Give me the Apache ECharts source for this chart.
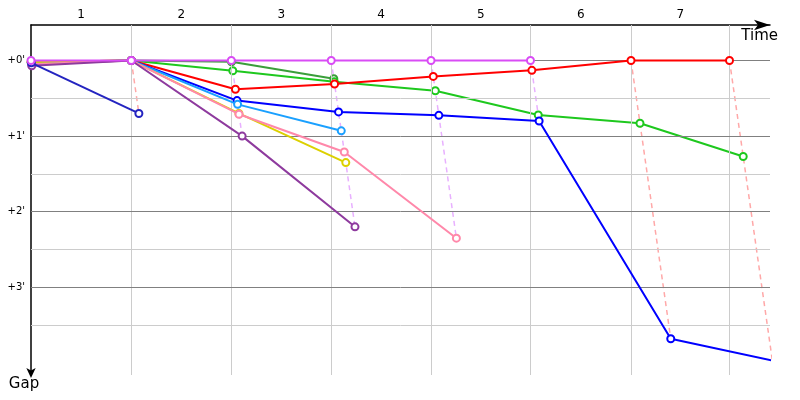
<!DOCTYPE html>
<html>
<head>
<meta charset="utf-8">
<script src="https://cdn.jsdelivr.net/npm/echarts@6/dist/echarts.min.js"></script>
<style>html,body{margin:0;padding:0;background:#fff}#c{width:800px;height:400px}</style>
</head>
<body>
<div id="c"></div>
<script>
// Leader's cumulative time at the end of each lap (lap 0 = start), in gap units
const leaderTimes = [0, 9.29, 18.55, 27.80, 37.04, 46.25, 55.56, 64.68];
const lapLabels = ['1', '2', '3', '4', '5', '6', '7'];
// leader of each lap (for the dashed "lap line" colour); index = lap
const lapLeaders = [null, 'red', 'magenta', 'magenta', 'magenta', 'magenta', 'red', 'red'];
// y tick labels
const majorGaps = [0, 1, 2, 3];
const minorGaps = [0.5, 1.5, 2.5, 3.5];

// gap to the leader per lap (index = lap, starting at lap 0)
const gapsDarkGreen = [0.03, 0, 0.016, 0.24];
const gapsGreen     = [0.02, 0, 0.135, 0.28, 0.40, 0.72, 0.83, 1.27];
const gapsRed       = [0.02, 0, 0.38, 0.31, 0.21, 0.13, 0, 0];
const gapsBlue      = [0.04, 0, 0.53, 0.68, 0.725, 0.80, 3.68, 3.97];
const gapsLightBlue = [0.03, 0, 0.58, 0.93];
const gapsYellow    = [0.02, 0, 0.70, 1.35];
const gapsPink      = [0.05, 0, 0.71, 1.21, 2.35];
const gapsPurple    = [0.07, 0, 1.00, 2.20];
const gapsNavy      = [0.03, 0.70];
const gapsMagenta   = [0, 0, 0, 0, 0, 0];

const cars = [
  {name: 'Dark green', color: '#3a9e3a', gaps: gapsDarkGreen},
  {name: 'Green', color: '#1ec81e', gaps: gapsGreen},
  {name: 'Red', color: '#ff0000', gaps: gapsRed},
  {name: 'Blue', color: '#0000ff', gaps: gapsBlue},
  {name: 'Light blue', color: '#1aa0ff', gaps: gapsLightBlue},
  {name: 'Yellow', color: '#dcd000', gaps: gapsYellow},
  {name: 'Pink', color: '#ff88aa', gaps: gapsPink},
  {name: 'Purple', color: '#8e3a9e', gaps: gapsPurple},
  {name: 'Navy', color: '#2424c0', gaps: gapsNavy},
  {name: 'Magenta', color: '#d94cf5', gaps: gapsMagenta}
];
const dashColors = {red: '#ffa8a8', magenta: '#e8b0ff'};

const X_MIN = 0, X_MAX = 68.43, Y_MIN = -0.47, Y_MAX = 4.16;
const FONT = 'DejaVu Sans';

const series = [];
// vertical grid lines at lap boundaries
series.push({
  type: 'line', data: [], z: 1, silent: true,
  markLine: {
    silent: true, symbol: ['none', 'none'], label: {show: false}, animation: false,
    lineStyle: {color: '#cccccc', width: 1, type: 'solid'},
    emphasis: {disabled: true},
    data: leaderTimes.slice(1).map(t => [{coord: [t, Y_MIN]}, {coord: [t, Y_MAX]}])
  }
});
series.push({
  type: 'line', data: [], z: 1, silent: true,
  markLine: {
    silent: true, symbol: ['none', 'none'], label: {show: false}, animation: false,
    lineStyle: {color: '#cccccc', width: 1, type: 'solid'},
    emphasis: {disabled: true},
    data: minorGaps.map(g => [{coord: [X_MIN, g]}, {coord: [X_MAX, g]}])
  }
});
series.push({
  type: 'line', data: [], z: 1, silent: true,
  markLine: {
    silent: true, symbol: ['none', 'none'], label: {show: false}, animation: false,
    lineStyle: {color: '#808080', width: 1, type: 'solid'},
    emphasis: {disabled: true},
    data: majorGaps.map(g => [{coord: [X_MIN, g]}, {coord: [X_MAX, g]}])
  }
});
// dashed lap lines from leader to last car of the lap
for (let lap = 1; lap < leaderTimes.length; lap++) {
  let maxGap = 0;
  cars.forEach(c => { if (c.gaps.length > lap && c.gaps[lap] > maxGap) maxGap = c.gaps[lap]; });
  series.push({
    type: 'line', z: 2, silent: true, showSymbol: false, symbol: 'none',
    lineStyle: {color: dashColors[lapLeaders[lap]], width: 1.5, type: [5, 4]},
    data: [[leaderTimes[lap], 0], [leaderTimes[lap] + maxGap, maxGap]]
  });
}
cars.forEach((c, i) => {
  series.push({
    name: c.name, type: 'line', z: 3 + i,
    symbol: 'emptyCircle', symbolSize: 7, showAllSymbol: true,
    lineStyle: {color: c.color, width: 2},
    itemStyle: {color: c.color, borderColor: c.color, borderWidth: 1.2},
    data: c.gaps.map((g, lap) => [leaderTimes[lap] + g, g])
  });
});

const lapMids = lapLabels.map((l, i) => (leaderTimes[i] + leaderTimes[i + 1]) / 2);

const chart = echarts.init(document.getElementById('c'), null, {renderer: 'canvas'});
chart.setOption({
  animation: false,
  backgroundColor: '#ffffff',
  grid: {left: 31, right: 30, top: 25, bottom: 25, containLabel: false},
  xAxis: {
    type: 'value', position: 'top', min: X_MIN, max: X_MAX,
    name: 'Time', nameLocation: 'end', nameGap: 8,
    nameTextStyle: {fontFamily: FONT, fontSize: 15, color: '#000', align: 'right', verticalAlign: 'top', padding: [4, 0, 0, 0]},
    axisLine: {show: true, onZero: false, symbol: ['none', 'arrow'], symbolSize: [8, 16], lineStyle: {color: '#000', width: 1.5}},
    axisTick: {show: false},
    splitLine: {show: false},
    axisLabel: {
      show: true, margin: 4, fontFamily: FONT, fontSize: 12, color: '#000',
      customValues: lapMids,
      formatter: function (v) {
        let idx = 0, best = Infinity;
        lapMids.forEach((m, i) => { if (Math.abs(m - v) < best) { best = Math.abs(m - v); idx = i; } });
        return lapLabels[idx];
      }
    }
  },
  yAxis: {
    type: 'value', inverse: true, min: Y_MIN, max: Y_MAX,
    name: 'Gap', nameLocation: 'end', nameGap: 2,
    nameTextStyle: {fontFamily: FONT, fontSize: 15, color: '#000', align: 'center', padding: [0, 14, 0, 0]},
    axisLine: {show: true, onZero: false, symbol: ['arrow', 'none'], symbolSize: [7, 10], symbolOffset: [-3, 0], lineStyle: {color: '#000', width: 1.5}},
    axisTick: {show: false},
    splitLine: {show: false},
    axisLabel: {
      show: true, margin: 6, fontFamily: FONT, fontSize: 10, color: '#000',
      customValues: majorGaps,
      formatter: v => '+' + Math.round(v) + "'"
    }
  },
  series: series
});
</script>
</body>
</html>
